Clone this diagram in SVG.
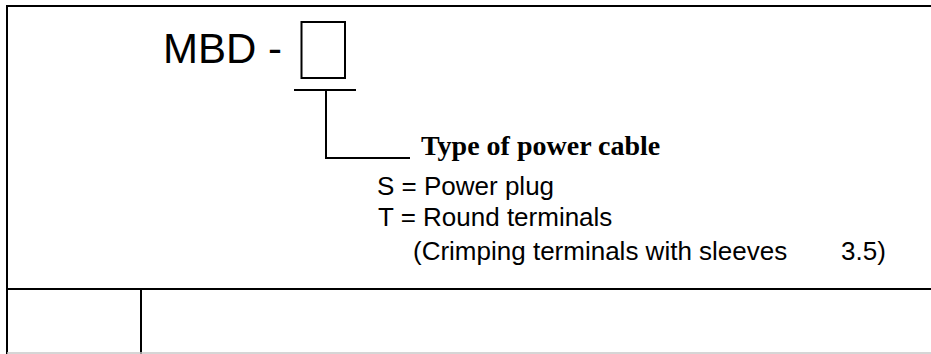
<svg xmlns="http://www.w3.org/2000/svg" width="931" height="354" viewBox="0 0 931 354">
<style>
.ln{stroke:#000;stroke-width:2;fill:none}
.sans{font-family:"Liberation Sans",Arial,sans-serif;fill:#000}
.serif{font-family:"Liberation Serif","Times New Roman",serif;font-weight:bold;fill:#000}
</style>
<rect width="931" height="354" fill="#fff"/>
<g id="frame">
<line class="ln" x1="7" y1="6" x2="931" y2="6"/>
<line class="ln" x1="7" y1="5" x2="7" y2="354"/>
<line class="ln" x1="7" y1="289" x2="931" y2="289"/>
<line class="ln" x1="141" y1="289" x2="141" y2="354"/>
<line x1="7" y1="353" x2="931" y2="353" stroke="#c8c8c8" stroke-width="1.5"/>
</g>
<g id="model">
<text class="sans" x="163" y="63" font-size="42">MBD -</text>
<rect class="ln" x="301.5" y="22" width="43.5" height="56"/>
</g>
<g id="connectors">
<line class="ln" x1="294" y1="90" x2="356" y2="90"/>
<polyline class="ln" points="326,91 326,158 410,158"/>
</g>
<g id="label">
<text class="serif" x="421" y="155" font-size="28">Type of power cable</text>
<text class="sans" x="377" y="195" font-size="26">S = Power plug</text>
<text class="sans" x="378" y="226" font-size="26">T = Round terminals</text>
<text class="sans" x="413" y="260" font-size="26">(Crimping terminals with sleeves</text>
<text class="sans" x="841" y="260" font-size="26">3.5)</text>
</g>
</svg>
